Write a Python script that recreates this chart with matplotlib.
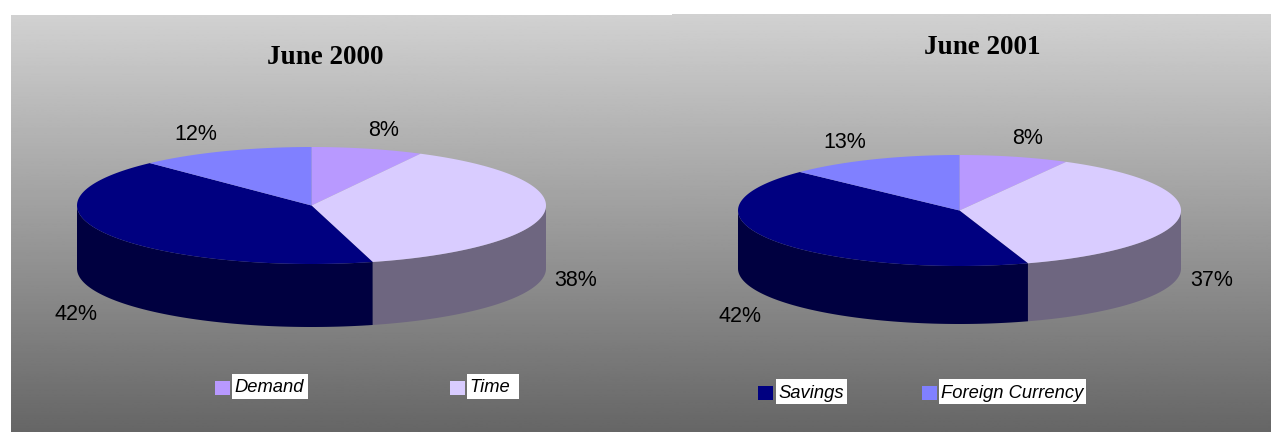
import numpy as np
import matplotlib
matplotlib.use('Agg')
import matplotlib.pyplot as plt
from matplotlib.patches import Rectangle

# Data
categories = ['Demand', 'Time', 'Savings', 'Foreign Currency']
colors = ['#b899ff', '#d9ccff', '#000080', '#8080ff']
side_colors = ['#5c4d80', '#6e6680', '#000040', '#404080']
titles = ['June 2000', 'June 2001']
shares_2000 = [7.7, 38.1, 42.1, 12.1]
shares_2001 = [8.0, 37.0, 42.2, 12.8]

# Layout, in image pixels
W, H = 1271, 432
panels = [
    {'shares': shares_2000, 'title': titles[0], 'box': (11, 672, 15, 432),
     'cx': 311.5, 'cy': 205.5, 'rx': 234.5, 'ry': 58.5, 'depth': 63,
     'title_xy': (325, 58),
     'label_xy': [(384, 131), (576, 281), (76, 315), (196, 134)],
     'legend': [(0, 215, 232, 308, 374), (1, 450, 467, 519, 374)]},
    {'shares': shares_2001, 'title': titles[1], 'box': (672, 1271, 14, 432),
     'cx': 959.5, 'cy': 210.5, 'rx': 221.5, 'ry': 55.5, 'depth': 58,
     'title_xy': (982, 48),
     'label_xy': [(1028, 139), (1212, 280), (740, 316), (845, 142)],
     'legend': [(2, 758, 776, 847, 379), (3, 922, 939, 1086, 379)]},
]


def ellipse(p, a, drop=0):
    # a is degrees clockwise from 12 o'clock
    t = np.radians(a)
    return p['cx'] + p['rx'] * np.sin(t), p['cy'] - p['ry'] * np.cos(t) + drop


fig = plt.figure(figsize=(W / 100, H / 100), dpi=100)
ax = fig.add_axes([0, 0, 1, 1])

gradient = np.linspace(0.82, 0.40, 256).reshape(-1, 1)

for p in panels:
    ax.imshow(gradient, extent=(p['box'][0], p['box'][1], p['box'][3], p['box'][2]),
              cmap='gray', vmin=0, vmax=1, aspect='auto', zorder=0)

    edges = np.concatenate([[0], np.cumsum(p['shares'])]) * 3.6

    # side wall, only the front half (90 to 270 degrees) is visible
    for i in range(len(p['shares'])):
        a0, a1 = max(edges[i], 90), min(edges[i + 1], 270)
        if a1 <= a0:
            continue
        a = np.linspace(a0, a1, 120)
        x, y = ellipse(p, a)
        xb, yb = ellipse(p, a[::-1], p['depth'])
        ax.fill(np.r_[x, xb], np.r_[y, yb], color=side_colors[i], lw=0, zorder=2)

    # top face
    for i in range(len(p['shares'])):
        a = np.linspace(edges[i], edges[i + 1], 120)
        x, y = ellipse(p, a)
        ax.fill(np.r_[p['cx'], x], np.r_[p['cy'], y], color=colors[i], lw=0, zorder=3)

    for share, (lx, ly) in zip(p['shares'], p['label_xy']):
        ax.text(lx, ly, '%d%%' % round(share), ha='center', va='center', fontsize=15.5,
                family='Liberation Sans', color='black', zorder=4)

    ax.text(p['title_xy'][0], p['title_xy'][1], p['title'], ha='center', va='center',
            fontsize=19.5, family='Liberation Serif', weight='bold', color='black', zorder=4)

    # legend with white text boxes
    for idx, sq_x, bx0, bx1, by in p['legend']:
        ax.add_patch(Rectangle((sq_x, by + 7), 15, 14, color=colors[idx], lw=0, zorder=4))
        ax.add_patch(Rectangle((bx0, by), bx1 - bx0, 25, color='white', lw=0, zorder=4))
        ax.text(bx0 + 2, by + 14, categories[idx], ha='left', va='center', fontsize=13.2,
                family='Liberation Sans', style='italic', color='black', zorder=5)

ax.set_xlim(0, W)
ax.set_ylim(H, 0)
ax.axis('off')

fig.savefig('out.png', dpi=100, facecolor='white')
